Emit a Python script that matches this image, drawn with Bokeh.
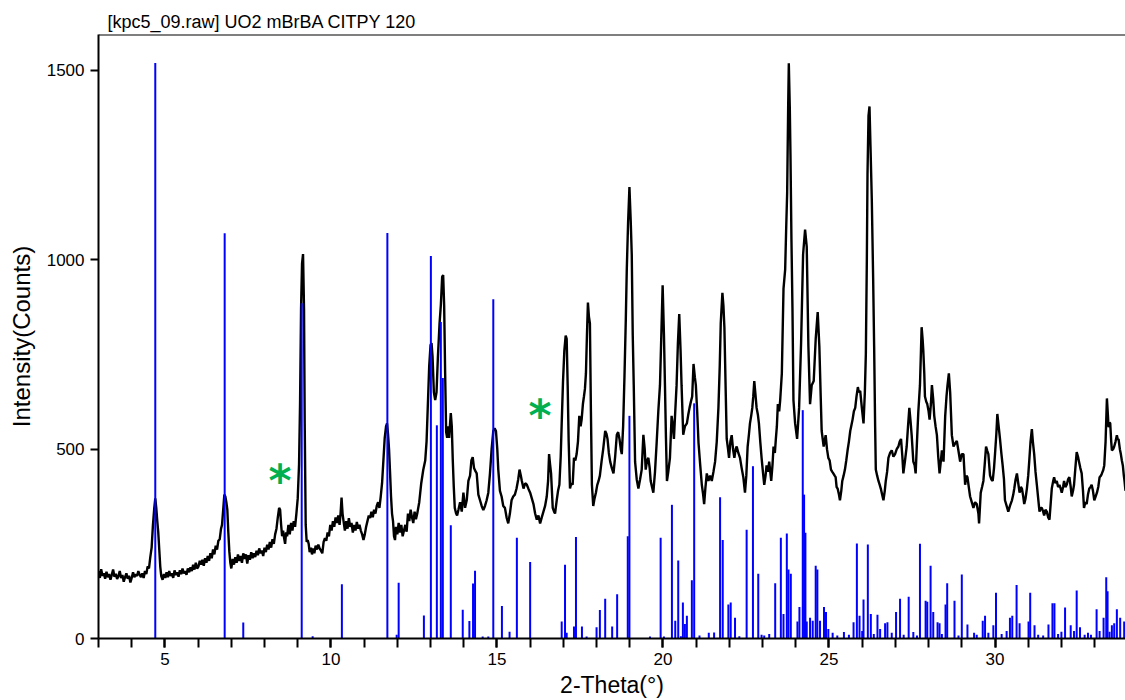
from bokeh.plotting import figure
from bokeh.models import Range1d, FixedTicker, Span
from bokeh.core.properties import value
from bokeh.embed import file_html
from bokeh.resources import INLINE

title_text = "[kpc5_09.raw] UO2 mBrBA CITPY 120"
x_label = "2-Theta(°)"
y_label = "Intensity(Counts)"
x_ticks = [5, 10, 15, 20, 25, 30]
x_minor = list(range(3, 34))
y_ticks = [0, 500, 1000, 1500]

# experimental pattern (2-theta, counts)
exp_x = [
    3.00, 3.04, 3.08, 3.12, 3.16, 3.20, 3.24, 3.28, 3.32, 3.36, 3.40, 3.44, 3.48, 3.52, 3.56, 3.60,
    3.64, 3.68, 3.72, 3.76, 3.80, 3.84, 3.88, 3.92, 3.96, 4.00, 4.04, 4.08, 4.12, 4.16, 4.20, 4.24,
    4.28, 4.32, 4.36, 4.40, 4.44, 4.48, 4.52, 4.56, 4.60, 4.64, 4.68, 4.71, 4.74, 4.77, 4.80, 4.83,
    4.86, 4.89, 4.93, 4.97, 5.01, 5.05, 5.09, 5.13, 5.17, 5.21, 5.25, 5.29, 5.33, 5.37, 5.41, 5.45,
    5.49, 5.53, 5.57, 5.61, 5.65, 5.69, 5.73, 5.77, 5.81, 5.85, 5.89, 5.93, 5.97, 6.01, 6.05, 6.09,
    6.13, 6.17, 6.21, 6.25, 6.29, 6.33, 6.37, 6.41, 6.45, 6.49, 6.53, 6.57, 6.61, 6.65, 6.69, 6.72,
    6.76, 6.79, 6.82, 6.85, 6.88, 6.91, 6.94, 6.97, 7.00, 7.04, 7.08, 7.12, 7.16, 7.20, 7.24, 7.28,
    7.32, 7.36, 7.40, 7.44, 7.48, 7.52, 7.56, 7.60, 7.64, 7.68, 7.72, 7.76, 7.80, 7.84, 7.88, 7.92,
    7.96, 8.00, 8.04, 8.08, 8.12, 8.16, 8.20, 8.24, 8.28, 8.32, 8.36, 8.40, 8.44, 8.47, 8.50, 8.53,
    8.56, 8.59, 8.62, 8.65, 8.68, 8.72, 8.76, 8.80, 8.84, 8.88, 8.92, 8.96, 9.00, 9.04, 9.07, 9.10,
    9.13, 9.16, 9.19, 9.21, 9.24, 9.27, 9.30, 9.33, 9.36, 9.40, 9.43, 9.46, 9.50, 9.54, 9.58, 9.62,
    9.66, 9.70, 9.74, 9.78, 9.82, 9.86, 9.90, 9.94, 9.98, 10.02, 10.06, 10.10, 10.14, 10.18, 10.22, 10.26,
    10.29, 10.32, 10.35, 10.38, 10.42, 10.46, 10.50, 10.54, 10.58, 10.62, 10.66, 10.70, 10.74, 10.78, 10.82, 10.86,
    10.90, 10.94, 10.98, 11.02, 11.06, 11.10, 11.14, 11.18, 11.22, 11.26, 11.30, 11.34, 11.38, 11.42, 11.46, 11.50,
    11.54, 11.58, 11.62, 11.66, 11.69, 11.72, 11.75, 11.78, 11.81, 11.84, 11.87, 11.90, 11.93, 11.96, 12.00, 12.04,
    12.08, 12.12, 12.16, 12.20, 12.24, 12.28, 12.32, 12.36, 12.40, 12.44, 12.48, 12.52, 12.56, 12.60, 12.66, 12.72,
    12.78, 12.84, 12.88, 12.92, 12.96, 13.00, 13.03, 13.06, 13.10, 13.14, 13.18, 13.22, 13.27, 13.31, 13.35, 13.38,
    13.41, 13.44, 13.47, 13.50, 13.53, 13.56, 13.59, 13.61, 13.64, 13.67, 13.70, 13.73, 13.77, 13.80, 13.84, 13.89,
    13.94, 13.99, 14.04, 14.09, 14.14, 14.19, 14.23, 14.27, 14.31, 14.34, 14.39, 14.44, 14.49, 14.54, 14.59, 14.64,
    14.69, 14.74, 14.79, 14.84, 14.89, 14.93, 14.97, 15.01, 15.04, 15.09, 15.14, 15.19, 15.24, 15.29, 15.34, 15.39,
    15.44, 15.49, 15.54, 15.59, 15.64, 15.68, 15.72, 15.75, 15.80, 15.85, 15.90, 15.95, 16.00, 16.05, 16.10, 16.15,
    16.20, 16.25, 16.30, 16.35, 16.40, 16.45, 16.50, 16.54, 16.57, 16.60, 16.63, 16.68, 16.72, 16.75, 16.80, 16.84,
    16.88, 16.92, 16.95, 16.99, 17.03, 17.07, 17.10, 17.13, 17.16, 17.20, 17.24, 17.28, 17.32, 17.36, 17.40, 17.44,
    17.48, 17.52, 17.55, 17.59, 17.62, 17.65, 17.68, 17.71, 17.74, 17.77, 17.80, 17.83, 17.86, 17.90, 17.94, 17.98,
    18.02, 18.06, 18.10, 18.15, 18.20, 18.26, 18.30, 18.33, 18.37, 18.41, 18.46, 18.51, 18.56, 18.61, 18.65, 18.69,
    18.73, 18.76, 18.80, 18.84, 18.88, 18.91, 18.95, 18.99, 19.03, 19.06, 19.09, 19.12, 19.16, 19.21, 19.26, 19.31,
    19.36, 19.41, 19.45, 19.48, 19.52, 19.56, 19.60, 19.63, 19.67, 19.71, 19.76, 19.81, 19.86, 19.91, 19.95, 19.99,
    20.03, 20.06, 20.09, 20.12, 20.16, 20.21, 20.26, 20.30, 20.33, 20.37, 20.41, 20.45, 20.49, 20.53, 20.56, 20.61,
    20.66, 20.72, 20.76, 20.80, 20.84, 20.88, 20.92, 20.96, 20.99, 21.03, 21.07, 21.12, 21.17, 21.21, 21.24, 21.28,
    21.32, 21.37, 21.42, 21.47, 21.52, 21.57, 21.62, 21.67, 21.71, 21.74, 21.79, 21.82, 21.85, 21.89, 21.92, 21.96,
    21.99, 22.03, 22.07, 22.11, 22.15, 22.19, 22.22, 22.27, 22.32, 22.37, 22.42, 22.47, 22.51, 22.55, 22.59, 22.62,
    22.66, 22.69, 22.72, 22.75, 22.78, 22.82, 22.86, 22.89, 22.93, 22.97, 23.01, 23.05, 23.09, 23.12, 23.16, 23.20,
    23.26, 23.30, 23.33, 23.37, 23.40, 23.43, 23.46, 23.50, 23.53, 23.58, 23.63, 23.68, 23.71, 23.74, 23.77, 23.79,
    23.82, 23.84, 23.87, 23.90, 23.93, 23.98, 24.04, 24.10, 24.16, 24.22, 24.28, 24.33, 24.38, 24.43, 24.48, 24.54,
    24.60, 24.66, 24.71, 24.75, 24.78, 24.84, 24.90, 24.94, 24.98, 25.02, 25.06, 25.10, 25.13, 25.17, 25.20, 25.23,
    25.26, 25.30, 25.33, 25.37, 25.40, 25.44, 25.48, 25.52, 25.56, 25.60, 25.64, 25.68, 25.71, 25.75, 25.79, 25.83,
    25.87, 25.90, 25.94, 25.99, 26.04, 26.08, 26.11, 26.14, 26.16, 26.19, 26.22, 26.25, 26.29, 26.33, 26.36, 26.39,
    26.41, 26.45, 26.49, 26.53, 26.56, 26.60, 26.64, 26.68, 26.71, 26.75, 26.79, 26.84, 26.89, 26.94, 26.99, 27.04,
    27.09, 27.13, 27.17, 27.21, 27.24, 27.29, 27.34, 27.38, 27.42, 27.46, 27.49, 27.54, 27.58, 27.61, 27.65, 27.69,
    27.74, 27.77, 27.79, 27.82, 27.84, 27.87, 27.89, 27.93, 27.96, 28.00, 28.03, 28.07, 28.10, 28.14, 28.17, 28.21,
    28.25, 28.29, 28.33, 28.37, 28.40, 28.45, 28.50, 28.54, 28.57, 28.61, 28.65, 28.70, 28.75, 28.80, 28.85, 28.90,
    28.95, 29.00, 29.05, 29.10, 29.14, 29.17, 29.21, 29.25, 29.30, 29.35, 29.40, 29.45, 29.50, 29.52, 29.57, 29.61,
    29.65, 29.69, 29.73, 29.77, 29.80, 29.85, 29.89, 29.93, 29.97, 30.00, 30.04, 30.07, 30.11, 30.15, 30.19, 30.23,
    30.27, 30.30, 30.35, 30.40, 30.45, 30.51, 30.55, 30.58, 30.62, 30.66, 30.70, 30.74, 30.78, 30.81, 30.85, 30.88,
    30.92, 30.96, 31.00, 31.03, 31.07, 31.11, 31.14, 31.18, 31.22, 31.26, 31.30, 31.34, 31.38, 31.41, 31.45, 31.48,
    31.52, 31.56, 31.60, 31.64, 31.68, 31.71, 31.75, 31.78, 31.82, 31.86, 31.90, 31.94, 31.98, 32.01, 32.05, 32.08,
    32.12, 32.16, 32.20, 32.24, 32.28, 32.31, 32.35, 32.38, 32.42, 32.46, 32.50, 32.53, 32.57, 32.61, 32.65, 32.68,
    32.72, 32.76, 32.80, 32.84, 32.88, 32.91, 32.95, 32.99, 33.03, 33.07, 33.11, 33.15, 33.19, 33.22, 33.26, 33.29,
    33.33, 33.37, 33.40, 33.42, 33.45, 33.47, 33.50, 33.52, 33.56, 33.59, 33.63, 33.67, 33.70, 33.72, 33.76, 33.79,
    33.82, 33.85, 33.88, 33.90, 33.93,
]
exp_y = [
    178, 160, 183, 166, 172, 158, 176, 162, 170, 155, 168, 182, 163, 171, 157, 165,
    178, 160, 168, 150, 162, 172, 158, 166, 148, 160, 175, 162, 170, 165, 178, 168,
    162, 172, 160, 178, 170, 190, 185, 215, 240, 300, 345, 370, 345, 310, 280, 235,
    190, 165, 155, 170, 160, 175, 162, 178, 165, 172, 160, 180, 168, 175, 163, 180,
    170, 185, 172, 178, 168, 185, 175, 188, 178, 195, 182, 200, 185, 190, 205, 195,
    208, 192, 212, 200, 218, 205, 225, 212, 235, 222, 245, 235, 258, 262, 290, 300,
    345, 380, 375, 360, 340, 280, 230, 200, 185, 210, 195, 215, 200, 222, 205, 218,
    200, 225, 210, 222, 198, 220, 208, 228, 212, 225, 215, 232, 220, 238, 225, 232,
    218, 240, 228, 248, 235, 255, 240, 262, 250, 275, 290, 320, 345, 340, 300, 270,
    285, 265, 250, 280, 270, 300, 275, 305, 285, 310, 295, 330, 370, 460, 620, 870,
    990, 1015, 870, 570, 300, 255, 260, 250, 228, 240, 222, 238, 225, 245, 235, 248,
    238, 232, 225, 255, 265, 258, 280, 270, 300, 285, 310, 295, 320, 305, 325, 300,
    330, 372, 330, 310, 285, 310, 290, 318, 295, 305, 280, 300, 285, 308, 290, 300,
    285, 275, 260, 275, 295, 310, 325, 318, 335, 320, 340, 330, 350, 360, 345, 375,
    410, 470, 530, 560, 568, 540, 500, 440, 375, 330, 310, 270, 260, 295, 275, 305,
    280, 300, 270, 285, 300, 282, 330, 310, 340, 320, 305, 335, 315, 330, 360, 410,
    445, 470, 520, 620, 720, 775, 780, 745, 650, 630, 650, 740, 830, 880, 955, 960,
    880, 700, 545, 530, 560, 530, 570, 595, 560, 470, 400, 345, 330, 325, 340, 360,
    335, 385, 345, 365, 416, 430, 470, 479, 450, 444, 436, 380, 365, 350, 339, 350,
    365, 385, 436, 500, 548, 555, 548, 500, 446, 390, 375, 350, 345, 320, 304, 330,
    365, 375, 380, 396, 420, 446, 430, 416, 396, 410, 406, 395, 385, 370, 355, 330,
    314, 325, 304, 320, 335, 350, 375, 416, 487, 460, 436, 345, 335, 330, 365, 390,
    406, 480, 568, 680, 761, 800, 791, 669, 520, 396, 410, 406, 477, 470, 487, 520,
    588, 560, 578, 620, 639, 659, 700, 800, 887, 850, 832, 600, 406, 350, 370, 385,
    405, 416, 430, 467, 500, 548, 540, 527, 490, 467, 450, 436, 480, 538, 545, 527,
    500, 487, 560, 690, 840, 974, 1100, 1192, 1100, 1014, 800, 669, 467, 420, 396, 420,
    446, 538, 500, 446, 470, 477, 450, 416, 400, 385, 440, 517, 600, 669, 800, 933,
    800, 669, 530, 416, 440, 477, 588, 560, 527, 600, 669, 780, 857, 760, 669, 538,
    560, 568, 590, 609, 625, 639, 725, 690, 669, 600, 517, 460, 406, 380, 355, 400,
    436, 416, 430, 416, 440, 467, 520, 609, 720, 832, 913, 880, 822, 650, 527, 500,
    477, 520, 537, 500, 477, 500, 507, 490, 477, 450, 426, 385, 430, 507, 540, 568,
    590, 609, 640, 680, 650, 609, 590, 568, 520, 477, 440, 406, 430, 457, 440, 467,
    416, 460, 507, 490, 527, 560, 619, 600, 629, 700, 923, 974, 1080, 1176, 1400, 1519,
    1400, 1278, 1050, 872, 629, 568, 527, 609, 781, 1014, 1080, 1034, 771, 619, 669, 680,
    791, 862, 771, 640, 548, 507, 537, 500, 477, 470, 446, 440, 436, 430, 426, 400,
    396, 380, 365, 390, 416, 430, 446, 470, 497, 520, 548, 565, 578, 600, 609, 640,
    664, 650, 654, 609, 568, 650, 751, 1000, 1227, 1380, 1405, 1300, 1156, 950, 771, 560,
    446, 430, 416, 405, 396, 380, 365, 390, 416, 440, 477, 490, 497, 480, 487, 500,
    507, 520, 527, 480, 436, 470, 507, 560, 609, 570, 537, 467, 457, 436, 520, 598,
    669, 760, 822, 790, 761, 700, 639, 625, 619, 600, 578, 620, 669, 630, 588, 560,
    537, 480, 436, 470, 497, 467, 588, 640, 669, 700, 649, 537, 507, 515, 522, 495,
    467, 487, 487, 406, 430, 426, 400, 375, 360, 345, 360, 355, 330, 304, 385, 400,
    416, 460, 507, 495, 487, 431, 420, 416, 450, 487, 540, 593, 560, 527, 490, 457,
    420, 365, 350, 335, 350, 365, 380, 396, 420, 436, 410, 385, 400, 396, 375, 355,
    370, 396, 430, 467, 520, 553, 520, 487, 440, 406, 370, 335, 345, 345, 335, 325,
    340, 335, 320, 314, 360, 396, 415, 426, 410, 416, 400, 406, 395, 385, 400, 416,
    400, 406, 420, 426, 400, 375, 390, 406, 450, 492, 480, 467, 450, 436, 390, 345,
    360, 355, 380, 396, 400, 406, 390, 365, 375, 385, 400, 426, 430, 436, 445, 457,
    520, 634, 590, 558, 570, 568, 520, 497, 500, 507, 520, 537, 525, 527, 500, 487,
    470, 457, 430, 416, 390,
]

# simulated reflections (2-theta, relative intensity scaled to counts)
sim_pos = [
    4.71, 6.80, 7.36, 9.12, 9.45, 10.33, 11.70, 11.98, 12.04, 12.80, 13.01, 13.19, 13.31, 13.37,
    13.61, 13.97, 14.17, 14.28, 14.34, 14.57, 14.74, 14.89, 15.15, 15.38, 15.60, 16.00, 16.95, 17.05,
    17.10, 17.32, 17.38, 17.56, 17.70, 18.00, 18.10, 18.26, 18.47, 18.62, 18.94, 18.99, 19.61, 19.93,
    20.03, 20.27, 20.37, 20.46, 20.54, 20.60, 20.66, 20.72, 20.87, 20.94, 21.10, 21.38, 21.54, 21.72,
    21.80, 21.97, 22.04, 22.17, 22.30, 22.52, 22.71, 22.87, 22.97, 23.05, 23.20, 23.38, 23.55, 23.63,
    23.73, 23.78, 23.85, 24.05, 24.11, 24.21, 24.25, 24.29, 24.33, 24.43, 24.51, 24.60, 24.65, 24.73,
    24.85, 24.91, 24.98, 25.11, 25.25, 25.45, 25.60, 25.74, 25.84, 25.92, 26.00, 26.04, 26.17, 26.26,
    26.35, 26.46, 26.54, 26.69, 26.76, 26.89, 27.02, 27.14, 27.25, 27.40, 27.54, 27.65, 27.74, 27.91,
    27.96, 28.06, 28.14, 28.27, 28.33, 28.40, 28.51, 28.56, 28.78, 28.90, 29.00, 29.17, 29.37, 29.45,
    29.63, 29.70, 29.80, 29.95, 30.03, 30.20, 30.35, 30.45, 30.52, 30.65, 30.74, 31.01, 31.06, 31.19,
    31.30, 31.45, 31.61, 31.73, 31.79, 31.90, 32.00, 32.11, 32.28, 32.38, 32.46, 32.56, 32.70, 32.80,
    32.89, 33.06, 33.15, 33.27, 33.35, 33.39, 33.45, 33.52, 33.59, 33.67, 33.77, 33.89,
]
sim_int = [
    1520, 1070, 42, 885, 6, 143, 1071, 10, 147, 61, 1010, 563, 836, 688,
    299, 76, 46, 145, 179, 5, 5, 896, 86, 18, 266, 202, 45, 195,
    15, 32, 268, 32, 5, 30, 75, 105, 32, 117, 270, 588, 5, 266,
    5, 353, 47, 206, 6, 95, 38, 60, 154, 621, 8, 15, 16, 373,
    260, 90, 95, 55, 6, 287, 455, 171, 10, 8, 12, 146, 266, 65,
    277, 182, 171, 45, 83, 603, 380, 279, 45, 55, 47, 192, 182, 47,
    83, 70, 25, 15, 8, 17, 10, 43, 251, 60, 20, 103, 248, 65,
    12, 63, 25, 40, 43, 15, 70, 105, 10, 110, 17, 8, 250, 100,
    97, 192, 70, 43, 40, 12, 90, 146, 100, 8, 169, 37, 15, 10,
    47, 60, 15, 35, 121, 12, 20, 55, 60, 141, 40, 45, 121, 35,
    10, 8, 37, 93, 93, 12, 18, 82, 35, 20, 127, 30, 10, 15,
    10, 77, 20, 55, 162, 125, 18, 35, 40, 77, 55, 45,
]

# impurity markers
mark_x = [8.47, 16.30]
mark_y = [416, 588]
mark_txt = ["*", "*"]

FONT = "Liberation Sans"

p = figure(
    width=1125, height=700,
    x_range=Range1d(3, 33.93), y_range=Range1d(0, 1595),
    output_backend="svg", toolbar_location=None,
    min_border_left=98, min_border_right=0, min_border_top=34, min_border_bottom=0,
)
p.outline_line_color = None
p.grid.visible = False
p.background_fill_color = "white"
p.border_fill_color = "white"

p.title.text = title_text
p.title.text_font = FONT
p.title.text_font_size = "18px"
p.title.text_font_style = "normal"
p.title.text_color = "black"
p.title.align = "left"
p.title.offset = 9
p.title.standoff = 5

p.line(exp_x, exp_y, line_color="black", line_width=2.4)
p.segment(x0=sim_pos, y0=[0] * len(sim_pos), x1=sim_pos, y1=sim_int,
          line_color="#0000FF", line_width=2)
p.text(x=mark_x, y=mark_y, text=mark_txt, text_color="#00B050",
       text_font=value("DejaVu Sans"), text_font_size="44px", text_font_style="bold",
       text_align="center", text_baseline="middle")

p.add_layout(Span(location=1595, dimension="width", line_color="black", line_width=2))

xa = p.xaxis[0]
xa.ticker = FixedTicker(ticks=x_ticks, minor_ticks=x_minor)
xa.axis_label = x_label
ya = p.yaxis[0]
ya.ticker = FixedTicker(ticks=y_ticks, minor_ticks=[])
ya.axis_label = y_label

for ax in (xa, ya):
    ax.axis_line_color = "black"
    ax.axis_line_width = 2
    ax.major_tick_line_color = "black"
    ax.major_tick_line_width = 2
    ax.minor_tick_line_color = "black"
    ax.minor_tick_line_width = 2
    ax.major_tick_in = 0
    ax.minor_tick_in = 0
    ax.major_label_text_font = FONT
    ax.major_label_text_font_size = "17px"
    ax.major_label_text_color = "black"
    ax.axis_label_text_font = FONT
    ax.axis_label_text_font_style = "normal"
    ax.axis_label_text_color = "black"

xa.major_tick_out = 9
xa.minor_tick_out = 9
xa.major_label_standoff = 5
xa.axis_label_text_font_size = "23px"
xa.axis_label_standoff = 4
ya.major_tick_out = 8
ya.minor_tick_out = 0
ya.major_label_standoff = 6
ya.axis_label_text_font_size = "24px"
ya.axis_label_standoff = 9

open("out.html", "w").write(file_html(p, INLINE))
